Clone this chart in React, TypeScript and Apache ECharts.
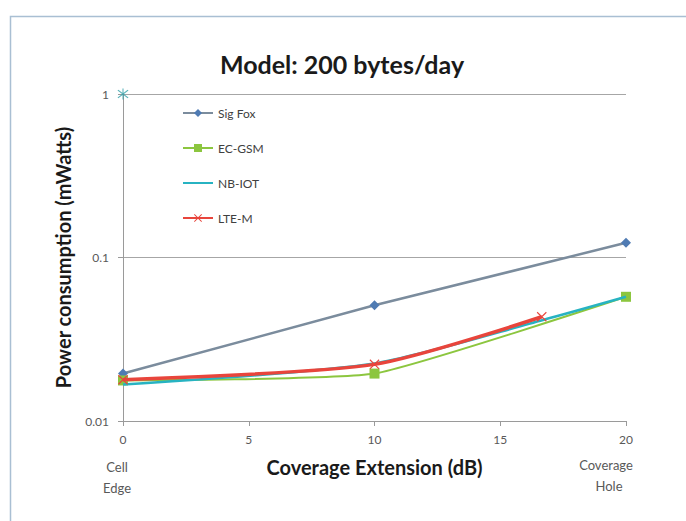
import React, { useEffect, useRef } from "react";
import * as echarts from "echarts";

const xTicks = [0, 5, 10, 15, 20];
const sigFox: [number, number][] = [[0, 0.0195], [10, 0.051], [20, 0.123]];
const ecGsm: [number, number][] = [[0, 0.0177], [10, 0.0195], [20, 0.0575]];
const nbIot: [number, number][] = [[0, 0.0167], [10, 0.0225], [16.7, 0.0415], [20, 0.0575]];
const lteM: [number, number][] = [[0, 0.0179], [10, 0.0222], [16.65, 0.0434]];
const stray: [number, number][] = [[0, 1]];

const ASTERISK =
  "path://M9.2 0H10.8V20H9.2Z M1.5 3.8L2.8 2.3L18.5 16.2L17.2 17.7Z M17.2 2.3L18.5 3.8L2.8 17.7L1.5 16.2Z";
const XMARK =
  "path://M1.5 3.8L2.8 2.3L18.5 16.2L17.2 17.7Z M17.2 2.3L18.5 3.8L2.8 17.7L1.5 16.2Z";

const FONT = "Lato, 'Open Sans', sans-serif";

export default function App() {
  const ref = useRef<HTMLDivElement>(null);
  useEffect(() => {
    if (!ref.current) return;
    const chart = echarts.init(ref.current, undefined, { renderer: "svg" });
    const txt = (t: string, x: number, y: number) => ({
      type: "text",
      x,
      y,
      style: { text: t, fontSize: 13, fill: "#595959", align: "center", verticalAlign: "middle", fontFamily: FONT },
    });
    chart.setOption({
      animation: false,
      backgroundColor: "#ffffff",
      textStyle: { fontFamily: FONT },
      title: {
        text: "Model: 200 bytes/day",
        left: 337,
        textAlign: "center",
        top: 46,
        textStyle: { fontSize: 25, fontWeight: "bold", color: "#1a1a1a", fontFamily: FONT },
      },
      legend: {
        orient: "vertical",
        left: 177,
        top: 101,
        itemWidth: 30,
        itemHeight: 10,
        itemGap: 21,
        data: [
          { name: "Sig Fox" },
          { name: "EC-GSM" },
          { name: "NB-IOT", itemStyle: { opacity: 0 } },
          { name: "LTE-M" },
        ],
        textStyle: { fontSize: 12, color: "#404040", lineHeight: 14, fontFamily: FONT },
      },
      grid: { left: 123, right: 60, top: 94, bottom: 100, containLabel: false },
      xAxis: {
        type: "value",
        min: 0,
        max: 20,
        interval: 5,
        name: "Coverage Extension (dB)",
        nameLocation: "middle",
        nameGap: 36,
        nameTextStyle: { fontSize: 20, fontWeight: "bold", color: "#1a1a1a", fontFamily: FONT },
        axisLine: { lineStyle: { color: "#9a9a9a", width: 1 } },
        axisTick: { show: true, length: 5, lineStyle: { color: "#9a9a9a" } },
        axisLabel: {
          fontSize: 12,
          color: "#595959",
          margin: 12,
          customValues: xTicks,
        },
        splitLine: { show: false },
      },
      yAxis: {
        type: "log",
        logBase: 10,
        min: 0.01,
        max: 1,
        name: "Power consumption (mWatts)",
        nameLocation: "middle",
        nameGap: 50,
        nameTextStyle: { fontSize: 20, fontWeight: "bold", color: "#1a1a1a", fontFamily: FONT },
        axisLine: { show: true, lineStyle: { color: "#9a9a9a", width: 1 } },
        axisTick: { show: true, length: 5, lineStyle: { color: "#9a9a9a" } },
        axisLabel: { fontSize: 12, color: "#595959", margin: 14 },
        splitLine: { show: true, lineStyle: { color: "#a6a6a6", width: 1 } },
        minorTick: { show: false },
      },
      graphic: [
        {
          type: "rect",
          left: 8,
          top: 14,
          shape: { width: 700, height: 540 },
          style: { fill: "none", stroke: "#a9bfd3", lineWidth: 1.5 },
          silent: true,
          z: -1,
        },
        txt("Cell", 117, 467),
        txt("Edge", 117, 488),
        txt("Coverage", 606, 465),
        txt("Hole", 609, 486),
      ],
      series: [
        {
          name: "Sig Fox",
          type: "line",
          data: sigFox,
          smooth: false,
          symbol: "diamond",
          symbolSize: 10,
          lineStyle: { color: "#7b8c9d", width: 2.5 },
          itemStyle: { color: "#4f7bb3", borderWidth: 0 },
          z: 3,
        },
        {
          name: "EC-GSM",
          type: "line",
          data: ecGsm,
          smooth: 0.15,
          symbol: "rect",
          symbolSize: 10,
          lineStyle: { color: "#8cc63f", width: 2 },
          itemStyle: { color: "#8cc63f", borderWidth: 0 },
          z: 3,
        },
        {
          name: "NB-IOT",
          type: "line",
          data: nbIot,
          smooth: 0.25,
          symbol: "none",
          showSymbol: false,
          lineStyle: { color: "#27b3c2", width: 2.5 },
          itemStyle: { color: "#27b3c2" },
          z: 4,
        },
        {
          name: "LTE-M",
          type: "line",
          data: lteM,
          smooth: 0.25,
          symbol: XMARK,
          symbolSize: 10,
          lineStyle: { color: "#e8453c", width: 3.5 },
          itemStyle: { color: "#e8453c", borderWidth: 0 },
          z: 5,
        },
        {
          name: "stray",
          type: "scatter",
          data: stray,
          symbol: ASTERISK,
          symbolSize: 11,
          itemStyle: { color: "#2f9fa8" },
          z: 6,
        },
      ],
    });
    return () => chart.dispose();
  }, []);
  return (
    <div
      ref={ref}
      style={{ position: "fixed", left: 0, top: 0, width: 686, height: 521 }}
    />
  );
}
